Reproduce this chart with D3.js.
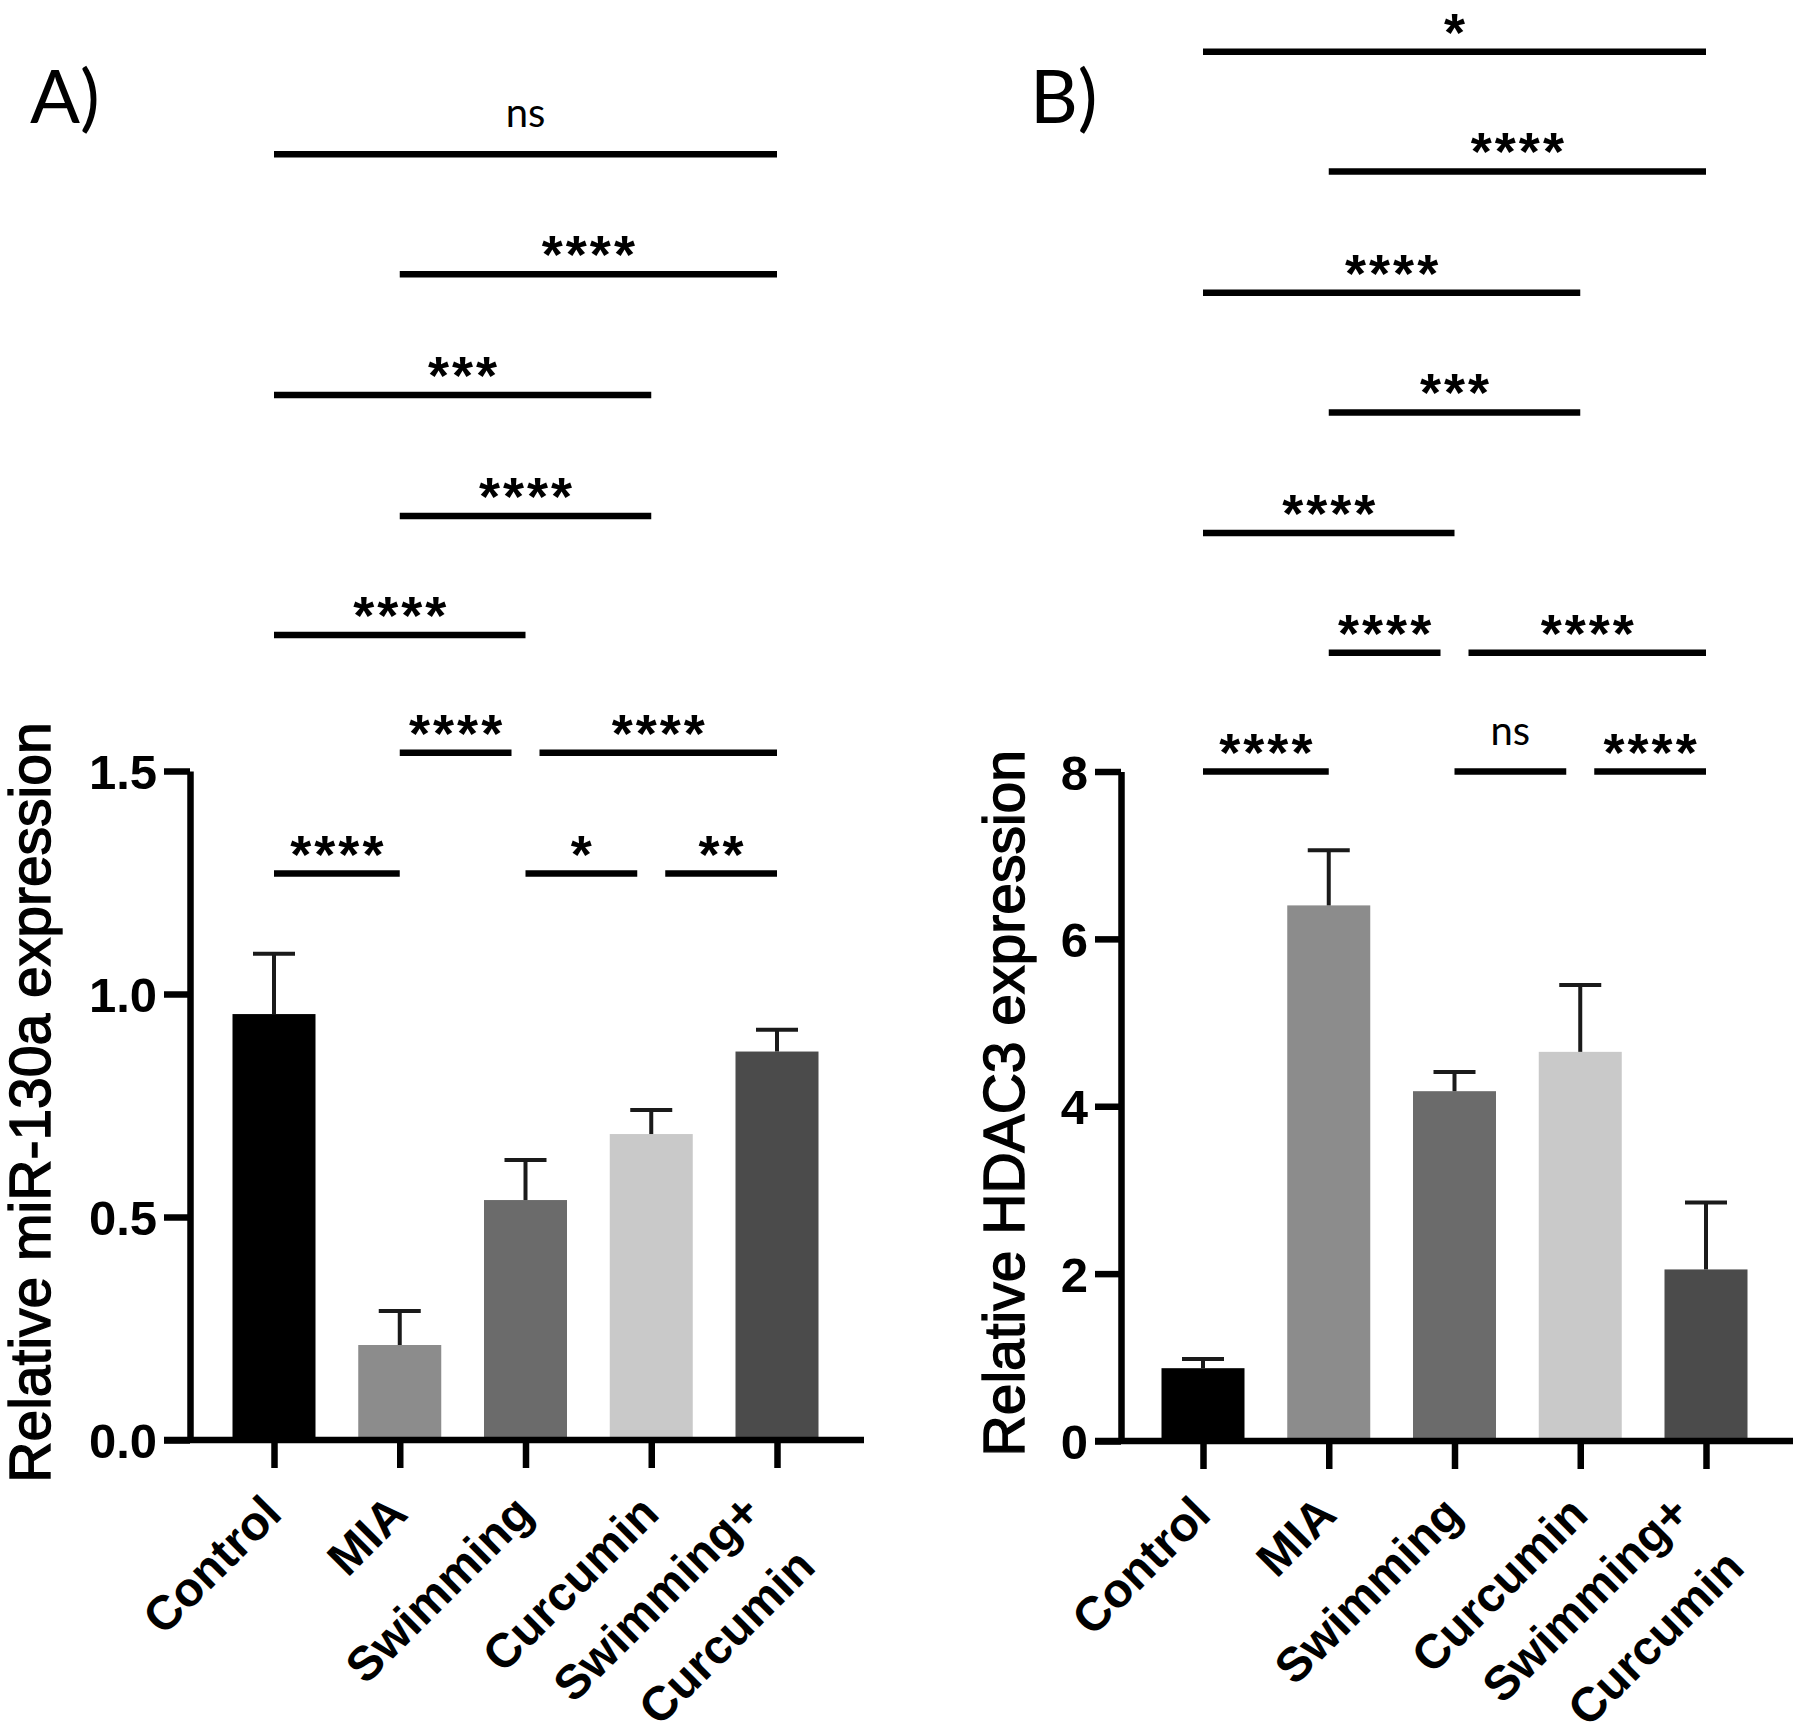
<!DOCTYPE html>
<html><head><meta charset="utf-8">
<script src="https://cdn.jsdelivr.net/npm/d3@7"></script>
<style>body{margin:0;background:#fff}svg{display:block}</style>
</head><body><svg id="c" width="1800" height="1734"></svg>
<script>
// ---------- data ----------
const categories = ["Control", "MIA", "Swimming", "Curcumin", "Swimming+ Curcumin"];
const categoryLabelLines = [["Control"], ["MIA"], ["Swimming"], ["Curcumin"], ["Swimming+", "Curcumin"]];
const barColors = ["#000000", "#8c8c8c", "#6b6b6b", "#c9c9c9", "#4b4b4b"];

const mirMeans = [0.955, 0.213, 0.538, 0.686, 0.871];
const mirSD    = [0.135, 0.076, 0.090, 0.054, 0.049];
const hdacMeans = [0.87, 6.40, 4.18, 4.65, 2.05];
const hdacSD    = [0.11, 0.66, 0.23, 0.80, 0.80];

const mirTicks = [0, 0.5, 1.0, 1.5];
const hdacTicks = [0, 2, 4, 6, 8];

// significance brackets: [from index, to index, label, height in data units]
const mirSig = [
  [0, 1, "****", 1.270], [2, 3, "*", 1.270], [3, 4, "**", 1.270],
  [1, 2, "****", 1.541], [2, 4, "****", 1.541],
  [0, 2, "****", 1.805],
  [1, 3, "****", 2.072],
  [0, 3, "***", 2.343],
  [1, 4, "****", 2.614],
  [0, 4, "ns", 2.883]
];
const hdacSig = [
  [0, 1, "****", 8.00], [2, 3, "ns", 8.00], [3, 4, "****", 8.00],
  [1, 2, "****", 9.42], [2, 4, "****", 9.42],
  [0, 2, "****", 10.85],
  [1, 3, "***", 12.29],
  [0, 3, "****", 13.72],
  [1, 4, "****", 15.17],
  [0, 4, "*", 16.60]
];
const panelLabels = ["A)", "B)"];
const yTitles = ["Relative miR-130a expression", "Relative HDAC3 expression"];

// ---------- drawing ----------
const svg = d3.select("#c");
svg.append("rect").attr("width", 1800).attr("height", 1734).attr("fill", "#fff");

const panels = [
  {means: mirMeans, sd: mirSD, ticks: mirTicks, sig: mirSig, fmt: d3.format(".1f"), max: 1.5,
   axisX: 190, c0: 274, y0: 1440, yTop: 771, labelX: 30, titleX: 50, label: panelLabels[0], title: yTitles[0]},
  {means: hdacMeans, sd: hdacSD, ticks: hdacTicks, sig: hdacSig, fmt: d3.format("d"), max: 8,
   axisX: 1121, c0: 1203, y0: 1441, yTop: 771.5, labelX: 1030, titleX: 1024, label: panelLabels[1], title: yTitles[1]}
];

const step = 125.75, barW = 83, lw = 6.5;

panels.forEach(p => {
  const g = svg.append("g");
  const x = d3.scalePoint().domain(categories).range([p.c0, p.c0 + step * (categories.length - 1)]);
  const y = d3.scaleLinear().domain([0, p.max]).range([p.y0, p.yTop]);

  // bars
  g.selectAll(".bar").data(p.means).join("rect")
    .attr("x", (d, i) => x(categories[i]) - barW / 2)
    .attr("width", barW)
    .attr("y", d => y(d))
    .attr("height", d => p.y0 - y(d))
    .attr("fill", (d, i) => barColors[i]);

  // error bars (upper only)
  const eb = g.selectAll(".eb").data(p.means).join("g");
  eb.append("line")
    .attr("x1", (d, i) => x(categories[i])).attr("x2", (d, i) => x(categories[i]))
    .attr("y1", d => y(d)).attr("y2", (d, i) => y(d + p.sd[i]))
    .attr("stroke", "#1a1a1a").attr("stroke-width", 4);
  eb.append("line")
    .attr("x1", (d, i) => x(categories[i]) - 21).attr("x2", (d, i) => x(categories[i]) + 21)
    .attr("y1", (d, i) => y(d + p.sd[i])).attr("y2", (d, i) => y(d + p.sd[i]))
    .attr("stroke", "#1a1a1a").attr("stroke-width", 4);

  // y axis
  const ya = g.append("g").attr("transform", `translate(${p.axisX},0)`)
    .call(d3.axisLeft(y).tickValues(p.ticks).tickFormat(p.fmt).tickSize(26).tickSizeOuter(0).tickPadding(7));
  ya.select(".domain").attr("stroke", "#000").attr("stroke-width", lw);
  ya.selectAll(".tick line").attr("stroke", "#000").attr("stroke-width", lw);
  ya.selectAll(".tick text").attr("font-family", "Liberation Sans, Arial, sans-serif")
    .attr("font-weight", "bold").attr("font-size", 49).attr("fill", "#000").attr("dy", "0.36em");

  // x axis
  const xEnd = p.c0 + step * (categories.length - 1) + 87;
  g.append("line").attr("x1", p.axisX - 26).attr("x2", xEnd)
    .attr("y1", p.y0).attr("y2", p.y0).attr("stroke", "#000").attr("stroke-width", lw);
  const xa = g.append("g").attr("transform", `translate(0,${p.y0})`)
    .call(d3.axisBottom(x).tickSize(28).tickSizeOuter(0).tickFormat(""));
  xa.select(".domain").remove();
  xa.selectAll(".tick line").attr("stroke", "#000").attr("stroke-width", lw);

  // x labels (rotated; two-line label right-aligned)
  categories.forEach((c, i) => {
    const lines = categoryLabelLines[i];
    const multi = lines.length > 1;
    const lg = g.append("g").attr("transform",
      `translate(${x(c) + 10},${p.y0 + 76}) rotate(-45)`);
    lines.forEach((t, k) => lg.append("text")
      .attr("font-family", "Liberation Sans, Arial, sans-serif").attr("font-weight", "bold")
      .attr("font-size", 48).attr("fill", "#000").attr("text-anchor", "end")
      .attr("x", multi ? -16 : 0)
      .attr("y", multi ? (k === 0 ? -18 : 59) : 0).text(t));
  });

  // y title
  g.append("text").attr("transform", `translate(${p.titleX},${(p.y0 + p.yTop) / 2 - 3}) rotate(-90)`)
    .attr("text-anchor", "middle").attr("font-family", "Liberation Sans, Arial, sans-serif")
    .attr("font-size", 57).attr("fill", "#000")
    .attr("stroke", "#000").attr("stroke-width", 1.4).text(p.title);

  // panel label
  g.append("text").attr("x", p.labelX).attr("y", 123)
    .attr("font-family", "Lato, sans-serif").attr("font-size", 74).attr("fill", "#000").text(p.label);

  // significance brackets
  p.sig.forEach(([a, b, lab, lev]) => {
    let x1 = x(categories[a]), x2 = x(categories[b]);
    if (p.sig.some(s => s[3] === lev && s[1] === a)) x1 += 14;
    if (p.sig.some(s => s[3] === lev && s[0] === b)) x2 -= 14;
    const ly = y(lev);
    g.append("line").attr("x1", x1).attr("x2", x2).attr("y1", ly).attr("y2", ly)
      .attr("stroke", "#000").attr("stroke-width", lw);
    const cx = (x1 + x2) / 2;
    if (lab === "ns") {
      g.append("text").attr("x", cx).attr("y", ly - 27).attr("text-anchor", "middle")
        .attr("font-family", "Lato, sans-serif").attr("font-size", 40).attr("fill", "#000").text(lab);
    } else {
      g.append("text").attr("x", cx + 1.5).attr("y", ly - 1).attr("text-anchor", "middle")
        .attr("font-family", "Liberation Sans, Arial, sans-serif").attr("font-weight", "bold")
        .attr("font-size", 54).attr("letter-spacing", 3).attr("fill", "#000").text(lab);
    }
  });
});
</script></body></html>
